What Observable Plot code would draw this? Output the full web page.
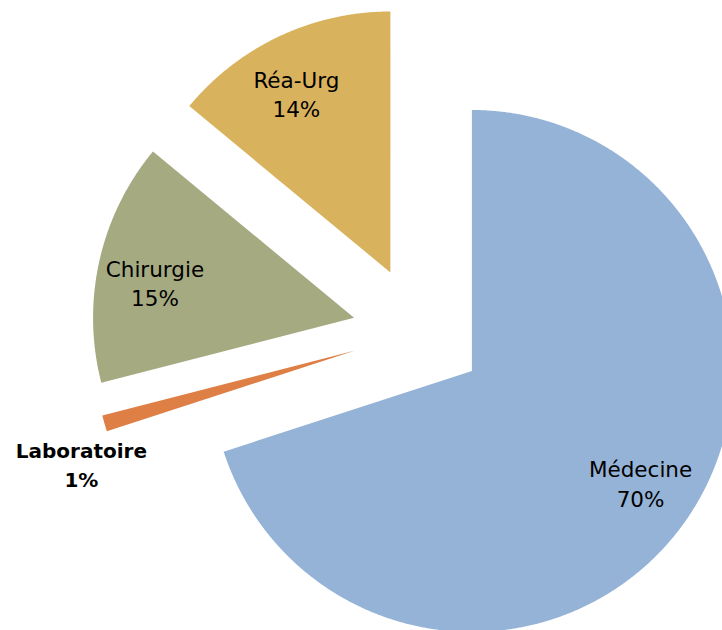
<!DOCTYPE html>
<html><head><meta charset="utf-8">
<script src="https://cdn.jsdelivr.net/npm/d3@7"></script>
<script src="https://cdn.jsdelivr.net/npm/@observablehq/plot@0.6"></script>
<style>html,body{margin:0;padding:0;background:#fff;} svg{display:block}</style>
</head><body><div id="chart"></div>
<script>
const categories = ["Médecine", "Laboratoire", "Chirurgie", "Réa-Urg"];
const values = [70, 1, 15, 14];
const percentLabels = ["70%", "1%", "15%", "14%"];
const colors = ["#95b3d7", "#de7f45", "#a5aa81", "#d9b25e"];

const W = 722, H = 630;
const R = 261;            // pixels per radius unit
const cx = 418, cy = 331.7; // unexploded pie centre in pixels
const explode = 66 / R;
const labelTurn = -2.5 * Math.PI / 180;

const pie = d3.pie().sort(null).value(d => d.value);
const slices = pie(categories.map((c, i) => ({name: c, value: values[i], pct: percentLabels[i]})));

const outline = [];
const labels = [];
slices.forEach(s => {
  const mid = (s.startAngle + s.endAngle) / 2;
  const ox = explode * Math.sin(mid), oy = explode * Math.cos(mid);
  const n = Math.max(2, Math.ceil((s.endAngle - s.startAngle) / (Math.PI / 720)));
  outline.push({name: s.data.name, x: ox, y: oy});
  for (let k = 0; k <= n; k++) {
    const a = s.startAngle + (s.endAngle - s.startAngle) * k / n;
    outline.push({name: s.data.name, x: ox + Math.sin(a), y: oy + Math.cos(a)});
  }
  const inside = s.data.value >= 5;
  const kr = inside ? 0.775 : 1.14;
  const la = inside ? mid + labelTurn : mid;
  labels.push({
    name: s.data.name,
    x: ox + kr * Math.sin(la),
    y: oy + kr * Math.cos(la),
    text: s.data.name + "\n" + s.data.pct,
    inside
  });
});

const chart = Plot.plot({
  width: W, height: H, margin: 0,
  style: {fontFamily: "DejaVu Sans", background: "#fff"},
  x: {domain: [-cx / R, (W - cx) / R], axis: null},
  y: {domain: [-(H - cy) / R, cy / R], axis: null},
  color: {domain: categories, range: colors},
  marks: [
    Plot.line(outline, {x: "x", y: "y", z: "name", fill: "name", stroke: "none", curve: "linear-closed"}),
    Plot.text(labels.filter(d => d.inside), {
      x: "x", y: "y", text: "text", fontSize: 21.5, lineHeight: 1.36,
      fontFamily: "DejaVu Sans", fill: "#000"
    }),
    Plot.text(labels.filter(d => !d.inside), {
      x: "x", y: "y", text: "text", fontSize: 20, lineHeight: 1.45, fontWeight: "bold",
      fontFamily: "DejaVu Sans", fill: "#000", dx: 12, dy: 30
    })
  ]
});
document.getElementById("chart").appendChild(chart);
</script>
</body></html>
